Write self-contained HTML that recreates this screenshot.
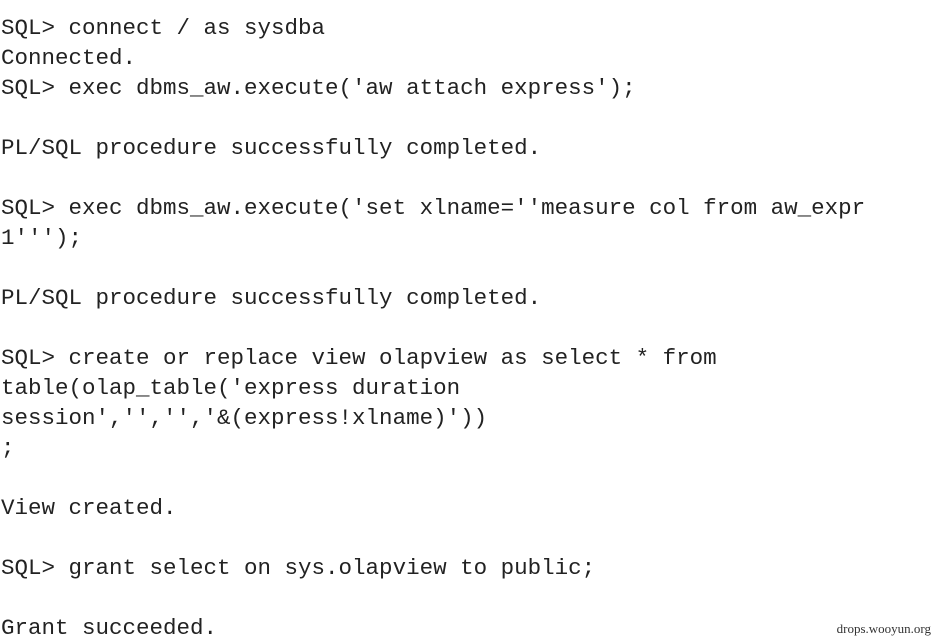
<!DOCTYPE html>
<html><head><meta charset="utf-8"><style>
html,body{margin:0;padding:0;background:#fff;}
body{width:936px;height:642px;position:relative;overflow:hidden;}
pre{position:absolute;left:1px;top:13px;margin:0;font-family:"Liberation Mono",monospace;font-size:22.5px;line-height:30px;color:#222;}
.wm{position:absolute;right:5px;top:621px;font-family:"Liberation Serif",serif;font-size:13px;color:#333;}
</style></head><body>
<pre>SQL&gt; connect / as sysdba
Connected.
SQL&gt; exec dbms_aw.execute('aw attach express');

PL/SQL procedure successfully completed.

SQL&gt; exec dbms_aw.execute('set xlname=''measure col from aw_expr
1''');

PL/SQL procedure successfully completed.

SQL&gt; create or replace view olapview as select * from
table(olap_table('express duration
session','','','&amp;(express!xlname)'))
;

View created.

SQL&gt; grant select on sys.olapview to public;

Grant succeeded.</pre>
<div class="wm">drops.wooyun.org</div>
</body></html>
